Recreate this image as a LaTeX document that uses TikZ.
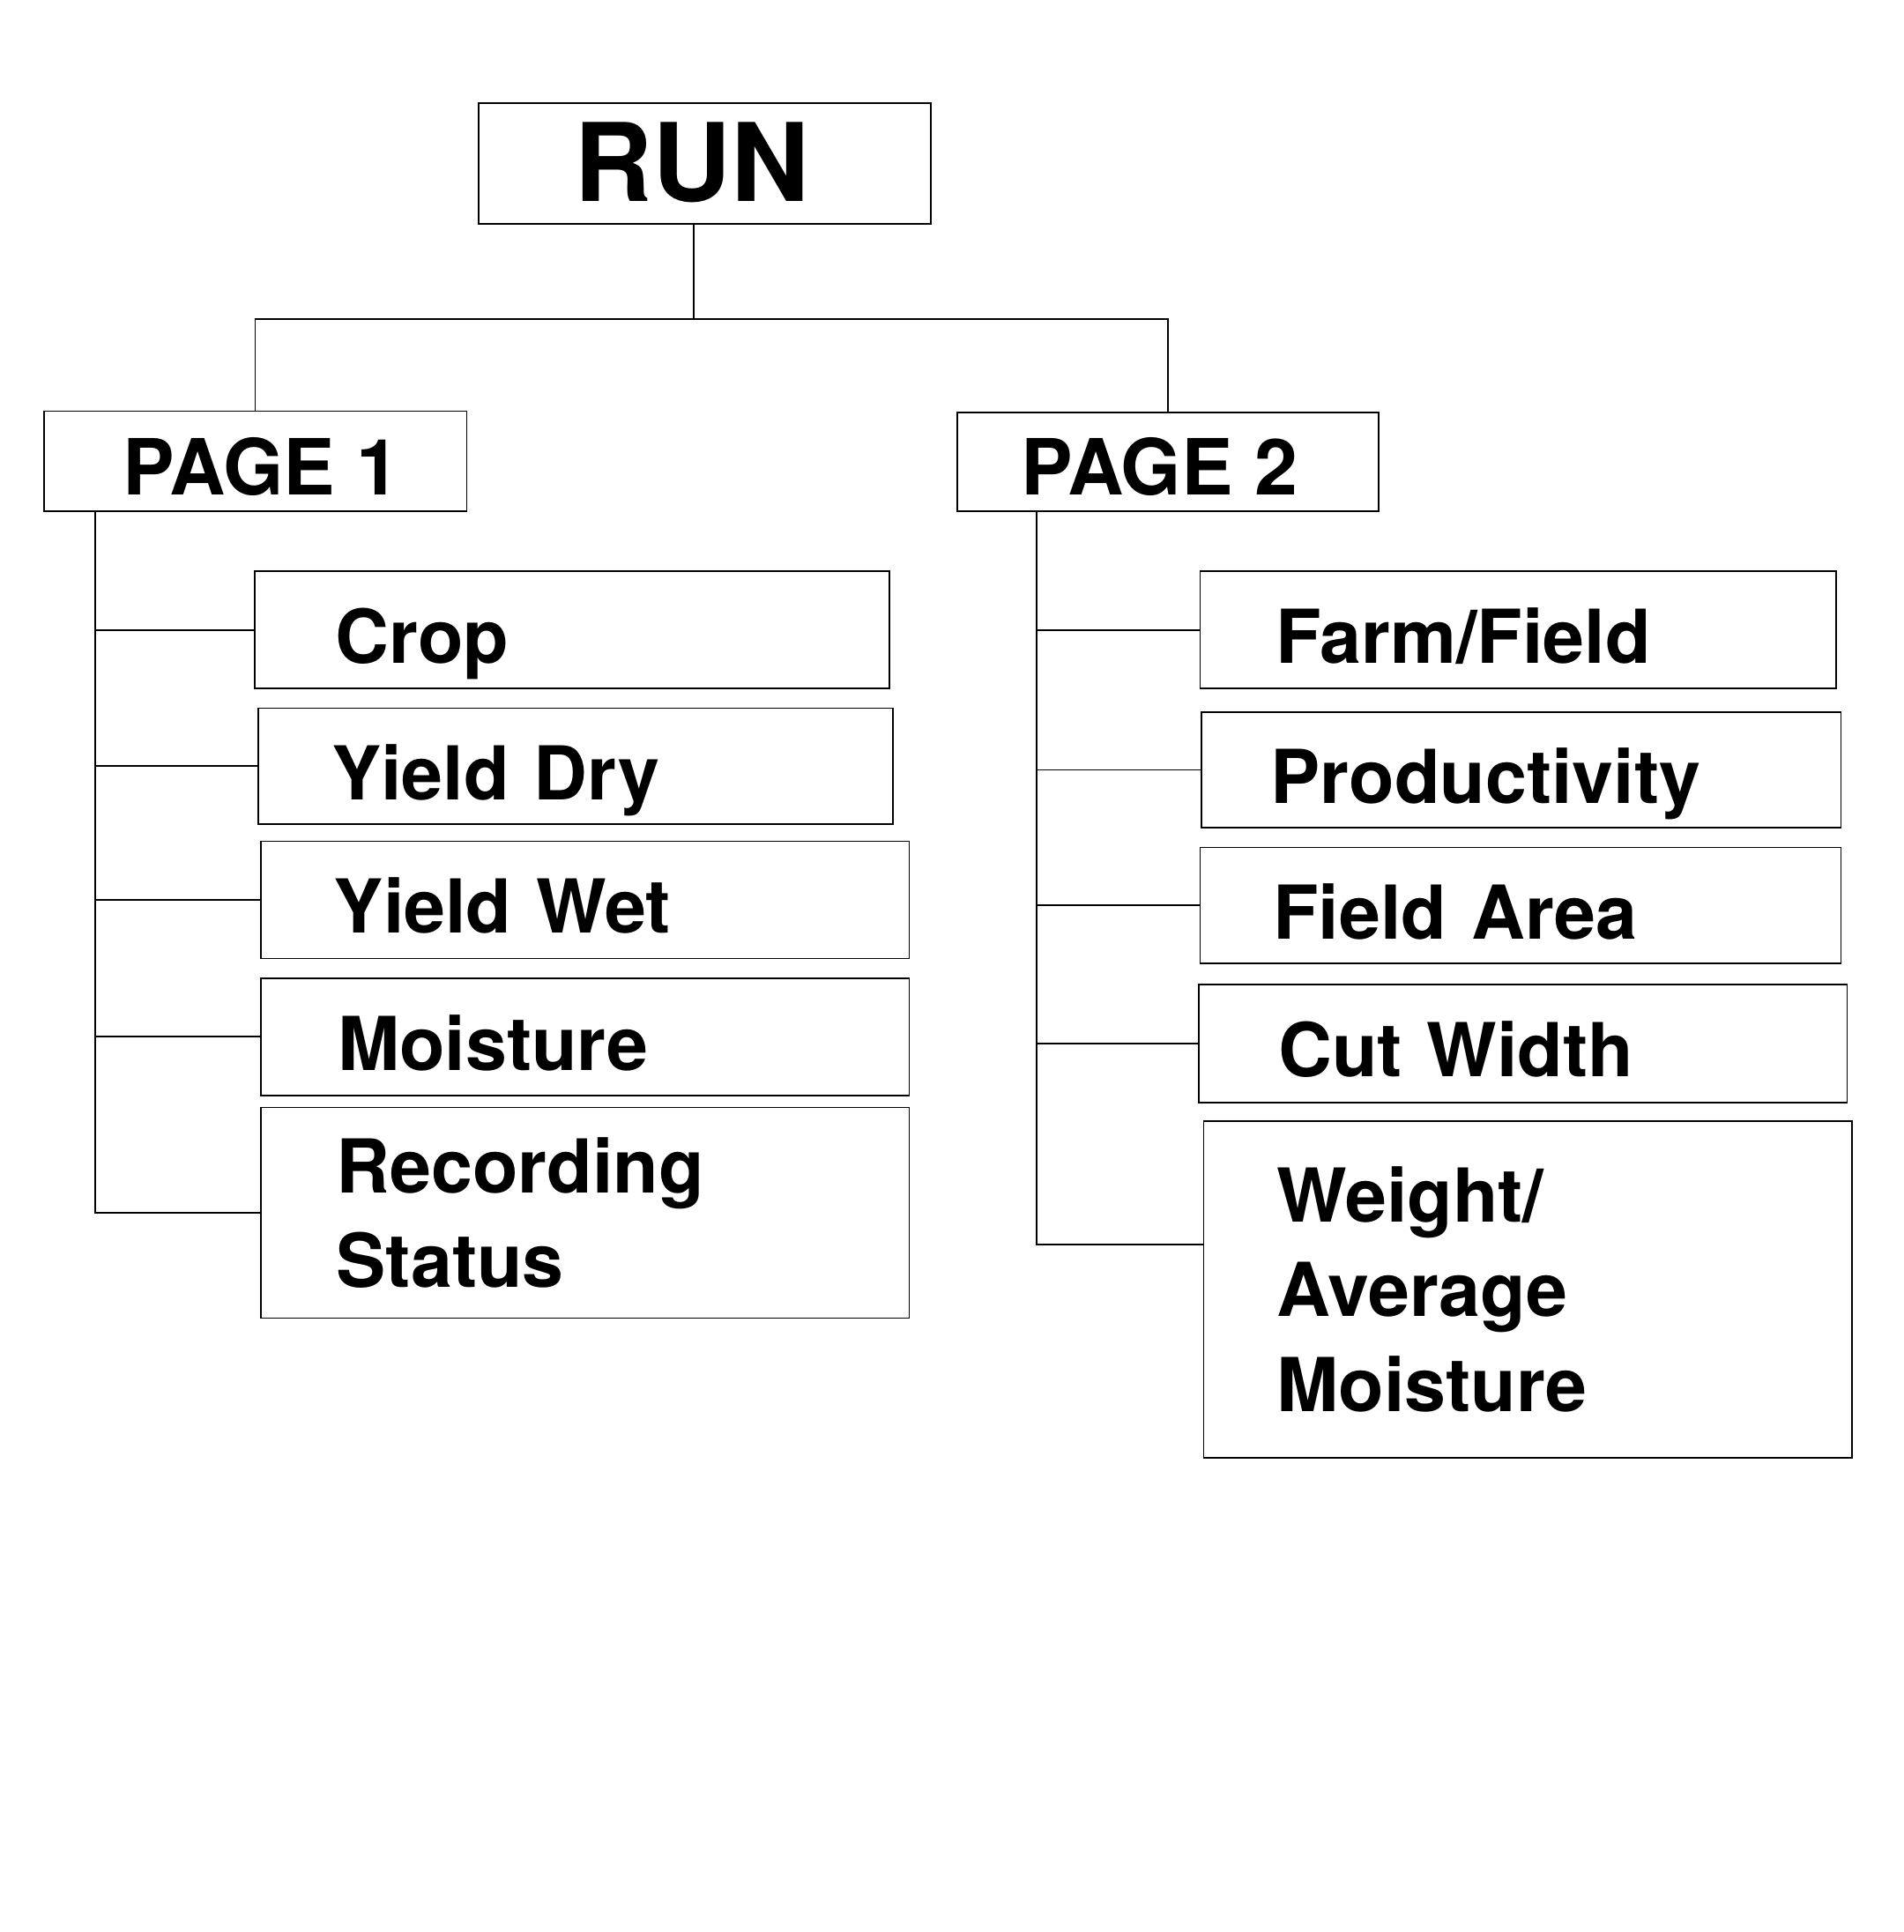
\documentclass[tikz,border=0pt]{standalone}
\usepackage{fontspec}
\setmainfont{TeX Gyre Heros}
\begin{document}
\begin{tikzpicture}[
  box/.style={draw, line width=0.5pt, anchor=north west, inner ysep=0pt,
    font=\fontsize{24}{30.5}\selectfont\bfseries},
  item/.style={box, inner xsep=0.83cm, align=left, text width=#1},
  flat/.style={text height=0.76cm, text depth=0pt},
  link/.style={line width=0.45pt}
]

  \useasboundingbox (0,0) rectangle (21.59,-21.92);

  % --- 1. 最上位 ---
  \node[box, inner xsep=1.09cm, text width=2.95cm, align=left,
    minimum height=1.37cm, text height=0.87cm, text depth=0pt,
    font=\fontsize{35}{40}\selectfont\bfseries] (run) at (5.42,-1.16) {RUN};

  % --- 2. ページ ---
  \node[box, flat, minimum width=4.797cm, minimum height=1.133cm,
    font=\fontsize{25}{30}\selectfont\bfseries] (pageA) at (0.489,-4.656) {\kern0.14cm PAGE 1};
  \node[box, flat, minimum width=4.782cm, minimum height=1.119cm,
    font=\fontsize{25}{30}\selectfont\bfseries] (pageB) at (10.851,-4.670) {PAGE 2\kern0.2cm};

  \coordinate (fork) at (7.87,-3.62);
  \draw[link] (run.south -| fork) -- (fork);
  \draw[link] (pageA.north) |- (fork) -| (pageB.north);

  % --- 3. PAGE 1 の項目 ---
  \node[item=5.372cm, inner xsep=0.914cm, flat, minimum height=1.33cm] (crop) at (2.88,-6.474) {Crop};
  \node[item=5.54cm, flat, minimum height=1.315cm] (ydry) at (2.922,-8.026) {Yield Dry};
  \node[item=5.695cm, flat, minimum height=1.33cm] (ywet) at (2.95,-9.536) {Yield Wet};
  \node[item=5.611cm, inner xsep=0.872cm, flat, minimum height=1.33cm] (moist) at (2.95,-11.089) {Moisture};
  \node[item=5.639cm, inner xsep=0.858cm, minimum height=2.39cm] (recstat) at (2.95,-12.557) {Recording\\Status};

  \coordinate (trunkA) at (1.08,-5.79);
  \draw[link] (trunkA) |- (recstat.west);
  \foreach \n in {crop,ydry,ywet,moist}
    \draw[link] (trunkA |- \n.west) -- (\n.west);

  % --- 4. PAGE 2 の項目 ---
  \node[item=5.5cm, inner xsep=0.858cm, flat, minimum height=1.33cm] (farm) at (13.605,-6.474) {Farm/Field};
  \node[item=5.681cm, inner xsep=0.788cm, flat, minimum height=1.315cm] (prod) at (13.62,-8.068) {Productivity};
  \node[item=5.612cm, flat, minimum height=1.315cm] (farea) at (13.605,-9.606) {Field Area};
  \node[item=5.554cm, inner xsep=0.90cm, flat, minimum height=1.342cm] (cutw) at (13.592,-11.159) {Cut Width};
  \node[item=5.696cm, minimum height=3.817cm] (wtavg) at (13.647,-12.711) {Weight/\\Average\\Moisture};

  \coordinate (trunkB) at (11.76,-5.79);
  \coordinate (wtin) at ([yshift=-1.41cm]wtavg.north west);
  \draw[link] (trunkB) |- (wtin);
  \foreach \n in {farm,prod,farea,cutw}
    \draw[link] (trunkB |- \n.west) -- (\n.west);

\end{tikzpicture}
\end{document}
